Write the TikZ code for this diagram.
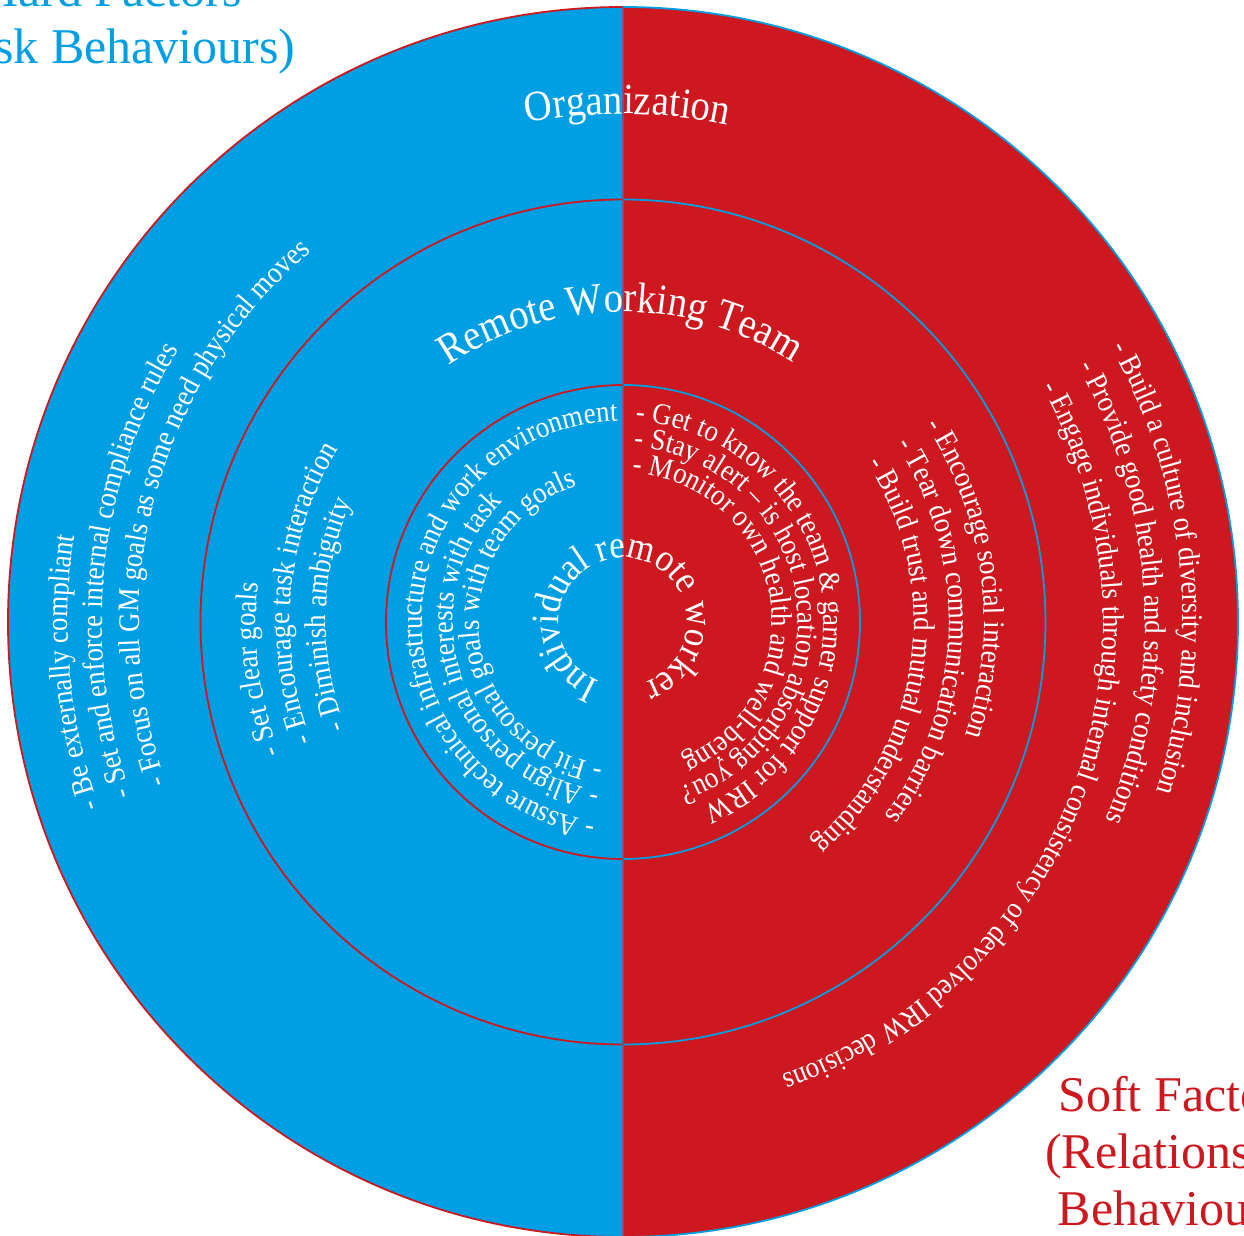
\documentclass[tikz,border=0pt]{standalone}
\usepackage{fontspec}
\setmainfont{Liberation Serif}
\newfontfamily\narrowserif[FakeStretch=0.9]{Liberation Serif}
\usepackage{tikz}
\usetikzlibrary{decorations.text}
\definecolor{hardblue}{RGB}{0, 159, 227}
\definecolor{softred}{RGB}{204, 24, 30}
\newcommand{\ringfont}{\narrowserif\fontsize{15}{18}\selectfont}
\newcommand{\layerfont}{\narrowserif\fontsize{21.5}{25}\selectfont}
\newcommand{\corefont}{\narrowserif\fontsize{19.4}{23}\selectfont}
\newcommand{\factorfont}{\fontsize{25}{28.5}\selectfont}
\tikzset{
    hard edge/.style={draw=softred, line width=0.9pt},
    soft edge/.style={draw=hardblue, line width=0.9pt},
    divider/.style={draw=hardblue!50!softred, line width=0.6pt},
    ring text/.style={decorate, decoration={text along path, text color=white, text={|\ringfont|#1}}},
    layer text/.style={decorate, decoration={text along path, text color=white, text align=center, text={|\layerfont|#1}}},
    core text/.style={decorate, decoration={text along path, text color=white, text align=center, text={|\corefont|#1}}},
    factor/.style={align=center, font=\factorfont, inner sep=0pt}
}

\begin{document}
\begin{tikzpicture}[x=0.5pt, y=0.5pt]
    \useasboundingbox (-623,-614) rectangle (621,622);

    % Two halves of the disc
    \fill[hardblue] (0,615) arc[start angle=90, end angle=270, radius=615] -- cycle;
    \fill[softred] (0,-615) arc[start angle=-90, end angle=90, radius=615] -- cycle;

    % Ring borders
    \draw[hard edge] (0,615) arc[start angle=90, end angle=270, radius=615];
    \draw[soft edge] (0,-615) arc[start angle=-90, end angle=90, radius=615];
    \draw[hard edge] (0,422.5) arc[start angle=90, end angle=270, radius=422.5];
    \draw[soft edge] (0,-422.5) arc[start angle=-90, end angle=90, radius=422.5];
    \draw[hard edge] (0,237) arc[start angle=90, end angle=270, radius=237];
    \draw[soft edge] (0,-237) arc[start angle=-90, end angle=90, radius=237];
    \draw[divider] (0,615) -- (0,-615);

    % Factor labels
    \node[factor, text=hardblue] (hard) at (-511,599) {Hard Factors\\(Task Behaviours)};
    \node[factor, text=softred] (soft) at (557,-534) {Soft Factors\\(Relationship\\Behaviours)};

    % Layer titles
    \path[layer text={Organization}] (125:508) arc[start angle=125, end angle=54, radius=508];
    \path[layer text={Remote Working Team}] (140:310) arc[start angle=140, end angle=41, radius=310];
    \path[core text={Individual remote worker}] (252:64) arc[start angle=252, end angle=-75, radius=64];

    % Organization, hard side
    \path[ring text={- Be externally compliant}] (199.5:555) arc[start angle=199.5, delta angle=-90, radius=555];
    \path[ring text={- Set and enforce internal compliance rules}] (199.5:521) arc[start angle=199.5, delta angle=-100, radius=521];
    \path[ring text={- Focus on all GM goals as some need physical moves}] (199.5:484) arc[start angle=199.5, delta angle=-110, radius=484];

    % Organization, soft side
    \path[ring text={- Build a culture of diversity and inclusion}] (29.3:560) arc[start angle=29.3, delta angle=-100, radius=560];
    \path[ring text={- Provide good health and safety conditions}] (29.3:522) arc[start angle=29.3, delta angle=-100, radius=522];
    \path[ring text={- Engage individuals through internal consistency of devolved IRW decisions}] (29.3:480) arc[start angle=29.3, delta angle=-130, radius=480];

    % Team, hard side
    \path[ring text={- Set clear goals}] (201:367) arc[start angle=201, delta angle=-100, radius=367];
    \path[ring text={- Encourage task interaction}] (201:333) arc[start angle=201, delta angle=-100, radius=333];
    \path[ring text={- Diminish ambiguity}] (201:297) arc[start angle=201, delta angle=-100, radius=297];

    % Team, soft side
    \path[ring text={- Encourage social interaction}] (33:361) arc[start angle=33, delta angle=-120, radius=361];
    \path[ring text={- Tear down communication barriers}] (33:326) arc[start angle=33, delta angle=-120, radius=326];
    \path[ring text={- Build trust and mutual understanding}] (33:291) arc[start angle=33, delta angle=-120, radius=291];

    % Individual, hard side
    \path[ring text={- Assure technical infrastructure and work environment}] (262:201) arc[start angle=262, delta angle=-178, radius=201];
    \path[ring text={- Align personal interests with task}] (262:170) arc[start angle=262, delta angle=-178, radius=170];
    \path[ring text={- Fit personal goals with team goals}] (262:144) arc[start angle=262, delta angle=-178, radius=144];

    % Individual, soft side
    \path[ring text={- Get to know the team {\&} garner support for IRW}] (86.5:201) arc[start angle=86.5, delta angle=-178, radius=201];
    \path[ring text={- Stay alert – is host location absorbing you?}] (86.5:175) arc[start angle=86.5, delta angle=-178, radius=175];
    \path[ring text={- Monitor own health and well-being}] (86.5:149) arc[start angle=86.5, delta angle=-178, radius=149];
\end{tikzpicture}
\end{document}
